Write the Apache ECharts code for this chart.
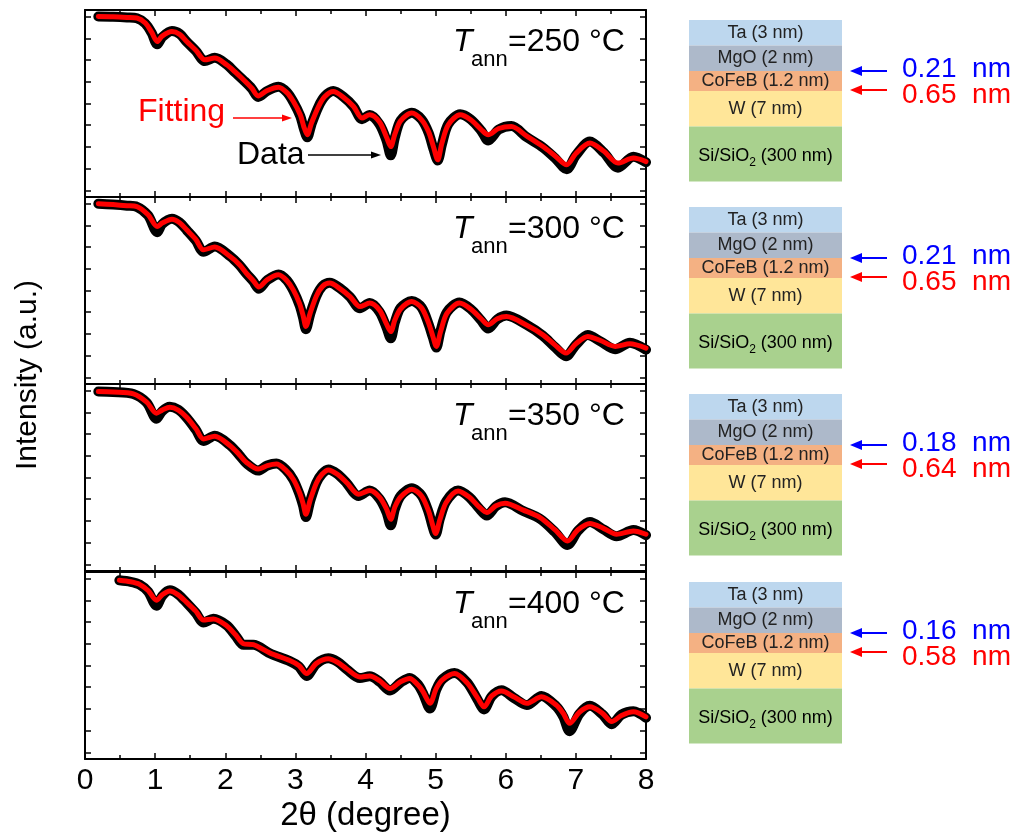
<!DOCTYPE html>
<html>
<head>
<meta charset="utf-8">
<script src="https://cdn.jsdelivr.net/npm/echarts@6/dist/echarts.min.js"></script>
<style>
  html, body { margin: 0; padding: 0; background: #fff; }
  #chart { width: 1020px; height: 835px; }
</style>
</head>
<body>
<div id="chart"></div>
<script>
// Annealing temperatures (°C), one panel each, top to bottom
const annealTemps = [250, 300, 350, 400];

// X-ray reflectivity: 2θ (degree), measured intensity and fitted curve (log scale, arb. units)
const x250 = [0.19,0.4,0.6,0.74,0.86,0.95,1.03,1.1,1.24,1.35,1.45,1.58,1.71,1.85,2.02,2.14,2.26,2.38,2.47,2.6,2.76,2.88,2.97,3.07,3.12,3.17,3.23,3.33,3.42,3.54,3.68,3.83,3.95,4.06,4.2,4.3,4.36,4.42,4.5,4.66,4.8,4.9,4.97,5.03,5.09,5.18,5.35,5.5,5.65,5.75,5.9,6.08,6.3,6.53,6.7,6.87,7.0,7.2,7.4,7.6,7.82,8.0];
const fit250 = [8.0,7.99,7.96,7.93,7.7,7.28,6.85,7.1,7.31,7.18,6.85,6.45,6.01,6.09,5.78,5.45,5.09,4.7,4.35,4.6,4.75,4.5,4.1,3.48,2.94,2.56,3.1,3.86,4.32,4.55,4.3,3.86,3.33,3.48,3.15,2.45,2.02,2.6,3.2,3.56,3.25,2.7,2.0,1.41,2.18,3.02,3.48,3.25,2.8,2.56,2.85,2.94,2.5,2.02,1.6,1.18,1.7,2.18,1.8,1.26,1.49,1.33];
const data250 = [8.0,7.99,7.96,7.92,7.68,7.25,6.72,7.05,7.33,7.2,6.84,6.42,5.95,6.1,5.8,5.43,5.07,4.68,4.3,4.58,4.77,4.52,4.08,3.42,2.85,2.45,3.05,3.86,4.33,4.57,4.32,3.85,3.28,3.47,3.05,2.3,1.62,2.45,3.22,3.58,3.27,2.65,1.9,1.38,2.12,3.05,3.5,3.27,2.75,2.3,2.8,2.96,2.45,1.98,1.5,0.98,1.62,2.25,1.74,1.05,1.55,1.3];

const x300 = [0.19,0.4,0.6,0.74,0.9,1.03,1.1,1.24,1.35,1.45,1.58,1.69,1.85,2.07,2.2,2.3,2.4,2.48,2.6,2.76,2.88,2.97,3.06,3.11,3.15,3.21,3.3,3.39,3.49,3.63,3.78,3.92,4.06,4.2,4.3,4.36,4.42,4.5,4.66,4.8,4.9,4.96,5.01,5.07,5.16,5.34,5.5,5.65,5.75,5.88,6.01,6.3,6.53,6.7,6.86,7.0,7.17,7.35,7.56,7.77,8.0];
const fit300 = [7.99,7.95,7.9,7.86,7.48,6.94,7.1,7.28,7.12,6.79,6.35,5.87,6.0,5.56,5.2,4.8,4.45,4.16,4.5,4.72,4.45,4.03,3.4,2.85,2.35,2.95,3.75,4.2,4.34,4.1,3.72,3.26,3.42,3.1,2.45,2.11,2.65,3.15,3.49,3.2,2.5,1.9,1.43,2.1,2.95,3.42,3.15,2.7,2.42,2.7,2.8,2.4,1.96,1.5,1.12,1.55,1.89,1.7,1.43,1.55,1.35];
const data300 = [7.99,7.95,7.9,7.85,7.45,6.68,7.05,7.3,7.13,6.78,6.3,5.78,6.02,5.58,5.18,4.78,4.42,4.08,4.48,4.74,4.47,4.0,3.32,2.75,2.22,2.9,3.75,4.22,4.36,4.12,3.7,3.18,3.42,3.02,2.3,1.8,2.55,3.2,3.52,3.22,2.45,1.85,1.38,2.15,3.0,3.45,3.15,2.62,2.25,2.68,2.85,2.42,1.92,1.4,0.98,1.5,1.95,1.66,1.3,1.6,1.28];

const x350 = [0.19,0.4,0.69,0.88,1.02,1.1,1.21,1.33,1.45,1.58,1.69,1.85,2.07,2.2,2.3,2.47,2.6,2.73,2.86,2.97,3.06,3.11,3.15,3.21,3.3,3.38,3.47,3.6,3.73,3.9,4.06,4.2,4.3,4.36,4.42,4.5,4.66,4.8,4.9,4.95,5.0,5.06,5.15,5.32,5.48,5.62,5.73,5.86,5.99,6.25,6.49,6.7,6.88,7.03,7.2,7.4,7.58,7.82,8.0];
const fit350 = [7.95,7.93,7.85,7.47,6.96,7.1,7.23,7.1,6.77,6.25,5.77,5.9,5.46,5.05,4.7,4.39,4.55,4.62,4.35,3.92,3.3,2.8,2.31,2.95,3.75,4.15,4.35,4.15,3.77,3.23,3.4,3.1,2.55,2.08,2.65,3.1,3.46,3.15,2.45,1.9,1.43,2.05,2.85,3.38,3.1,2.65,2.39,2.7,2.82,2.5,2.16,1.6,1.08,1.6,1.89,1.65,1.39,1.54,1.39];
const data350 = [7.95,7.93,7.84,7.44,6.7,7.05,7.25,7.12,6.75,6.2,5.68,5.92,5.48,5.03,4.66,4.32,4.55,4.64,4.37,3.9,3.22,2.7,2.18,2.9,3.76,4.17,4.37,4.16,3.75,3.15,3.4,3.02,2.4,1.8,2.55,3.15,3.5,3.17,2.4,1.82,1.38,2.1,2.9,3.4,3.1,2.58,2.25,2.68,2.86,2.46,2.1,1.5,0.9,1.55,1.95,1.6,1.3,1.58,1.35];

const x400 = [0.49,0.65,0.78,0.9,1.02,1.1,1.21,1.33,1.45,1.58,1.69,1.83,2.02,2.15,2.26,2.4,2.64,2.92,3.05,3.16,3.3,3.47,3.6,3.73,3.92,4.06,4.2,4.35,4.5,4.63,4.75,4.82,4.92,5.01,5.1,5.27,5.45,5.6,5.69,5.8,5.94,6.12,6.3,6.51,6.72,6.82,6.91,7.05,7.2,7.38,7.51,7.65,7.82,8.0];
const fit400 = [7.92,7.85,7.73,7.45,7.0,7.25,7.43,7.25,6.9,6.5,6.09,6.14,5.83,5.4,5.0,4.96,4.57,4.23,4.0,3.63,4.1,4.31,4.15,3.85,3.47,3.52,3.3,2.94,3.25,3.4,3.1,2.8,2.26,2.95,3.35,3.63,3.2,2.5,2.1,2.6,2.83,2.55,2.26,2.56,2.18,1.8,1.34,1.85,2.1,1.8,1.42,1.7,1.87,1.64];
const data400 = [7.92,7.85,7.72,7.4,6.75,7.2,7.46,7.27,6.88,6.42,5.98,6.15,5.85,5.36,4.95,4.95,4.55,4.2,3.95,3.52,4.08,4.33,4.17,3.83,3.42,3.5,3.26,2.85,3.22,3.43,3.12,2.72,2.02,2.9,3.38,3.66,3.22,2.42,1.98,2.58,2.86,2.5,2.18,2.6,2.12,1.65,0.98,1.78,2.15,1.75,1.3,1.74,1.9,1.6];

// Tick positions
const xTicks = [0, 1, 2, 3, 4, 5, 6, 7, 8];
const yTicks = [0, 1, 2, 3, 4, 5, 6, 7, 8];

// Film stack, top to bottom, and interface roughness from the fits (nm)
const layerNames = ['Ta (3 nm)', 'MgO (2 nm)', 'CoFeB (1.2 nm)', 'W (7 nm)', 'Si/SiO2 (300 nm)'];
const roughMgOCoFeB = [0.21, 0.21, 0.18, 0.16];
const roughCoFeBW = [0.65, 0.65, 0.64, 0.58];

const xSets = [x250, x300, x350, x400];
const fitSets = [fit250, fit300, fit350, fit400];
const dataSets = [data250, data300, data350, data400];

// ---- layout ----
const FONT = 'Liberation Sans, Arial, Helvetica, sans-serif';
const gridLeft = 85, gridWidth = 561, gridHeight = 187;
const gridTops = [10, 197, 384, 572];
const layerColors = ['#BDD7EE', '#ADB9CA', '#F4B183', '#FFE699', '#A9D18E'];
const layerEdges = [20, 45.5, 71, 91, 126.5, 181.5]; // first panel, px
const stackX = 689, stackW = 153;

const chart = echarts.init(document.getElementById('chart'), null, { renderer: 'canvas' });

const grids = [], xAxes = [], yAxes = [], series = [];
const axisLine = { show: true, onZero: false, lineStyle: { color: '#000', width: 2 } };
const tickLine = { color: '#000', width: 1.5 };

gridTops.forEach((top, k) => {
  grids.push({ left: gridLeft, top: top, width: gridWidth, height: gridHeight });
  const isLast = k === gridTops.length - 1;
  ['bottom', 'top'].forEach(pos => {
    xAxes.push({
      type: 'value', gridIndex: k, position: pos, min: 0, max: 8, interval: 1,
      axisLine: axisLine,
      axisTick: { show: true, inside: true, length: 6, lineStyle: tickLine },
      minorTick: { show: true, splitNumber: 2, length: 4, lineStyle: tickLine },
      axisLabel: {
        show: isLast && pos === 'bottom', margin: 7,
        fontFamily: FONT, fontSize: 30, color: '#000',
        customValues: xTicks
      },
      splitLine: { show: false }, minorSplitLine: { show: false },
      name: isLast && pos === 'bottom' ? '2θ (degree)' : '',
      nameLocation: 'middle', nameGap: 40,
      nameTextStyle: { fontFamily: FONT, fontSize: 33, color: '#000' }
    });
  });
  ['left', 'right'].forEach(pos => {
    yAxes.push({
      type: 'value', gridIndex: k, position: pos, min: -0.3, max: 8.3,
      axisLine: axisLine,
      axisTick: { show: true, inside: true, length: 6, lineStyle: tickLine, customValues: yTicks },
      axisLabel: { show: false },
      splitLine: { show: false }
    });
  });

  const xs = xSets[k];
  series.push({
    name: 'Data', type: 'line', xAxisIndex: 2 * k, yAxisIndex: 2 * k,
    data: xs.map((x, i) => [x, dataSets[k][i]]),
    smooth: 0.3, symbol: 'circle', symbolSize: 7, showSymbol: true, showAllSymbol: true,
    lineStyle: { color: '#000', width: 10, cap: 'round', join: 'round' },
    itemStyle: { color: 'rgba(255,255,255,0)', borderColor: '#000', borderWidth: 1 },
    z: 2, silent: true
  });
  series.push({
    name: 'Fitting', type: 'line', xAxisIndex: 2 * k, yAxisIndex: 2 * k,
    data: xs.map((x, i) => [x, fitSets[k][i]]),
    smooth: 0.3, symbol: 'none', showSymbol: false,
    lineStyle: { color: '#FF0000', width: 5, cap: 'round', join: 'round' },
    z: 3, silent: true
  });
});

// ---- annotations drawn with graphic elements ----
const graphic = [];
function txt(text, x, y, size, color, align, extra) {
  return {
    type: 'text', silent: true,
    style: Object.assign({
      text: text, x: x, y: y, fill: color,
      font: size + 'px ' + FONT,
      align: align, textAlign: align,
      verticalAlign: 'middle', textVerticalAlign: 'middle'
    }, extra || {})
  };
}
function arrow(x1, x2, y, color, width, headLen, headHalf) {
  const dir = x2 > x1 ? 1 : -1;
  graphic.push({ type: 'line', silent: true,
    shape: { x1: x1, y1: y, x2: x2 - dir * headLen * 0.6, y2: y },
    style: { stroke: color, lineWidth: width } });
  graphic.push({ type: 'polygon', silent: true,
    shape: { points: [[x2, y], [x2 - dir * headLen, y - headHalf], [x2 - dir * headLen, y + headHalf]] },
    style: { fill: color } });
}

// y-axis title spanning all panels
graphic.push({
  type: 'text', silent: true, x: 28, y: 375, rotation: Math.PI / 2,
  style: { text: 'Intensity (a.u.)', x: 0, y: 0, fill: '#000', font: '30px ' + FONT,
           align: 'center', textAlign: 'center', verticalAlign: 'middle', textVerticalAlign: 'middle' }
});

// "Fitting" / "Data" pointers in the first panel
graphic.push(txt('Fitting', 138, 112.5, 32, '#FF0000', 'left'));
arrow(233, 292, 118, '#FF0000', 1.5, 10, 3.5);
graphic.push(txt('Data', 237, 155, 32, '#000', 'left'));
arrow(308, 381, 155, '#000', 1.5, 10, 3.5);

gridTops.forEach((top, k) => {
  const dy = top - gridTops[0];
  // T_ann label
  graphic.push(txt('T', 453, 42.5 + dy, 32, '#000', 'left', { font: 'italic 32px ' + FONT }));
  graphic.push(txt('ann', 471, 60 + dy, 22, '#000', 'left'));
  graphic.push(txt('=' + annealTemps[k] + ' °C', 508, 42.5 + dy, 32, '#000', 'left'));

  // film stack
  layerNames.forEach((name, j) => {
    const y0 = layerEdges[j] + dy, y1 = layerEdges[j + 1] + dy;
    graphic.push({ type: 'rect', silent: true,
      shape: { x: stackX, y: y0, width: stackW, height: y1 - y0 },
      style: { fill: layerColors[j] } });
    const cx = stackX + stackW / 2, cy = (y0 + y1) / 2;
    if (name.indexOf('SiO2') >= 0) {
      const parts = name.split('SiO2');
      graphic.push({ type: 'text', silent: true,
        style: {
          text: '{a|' + parts[0] + 'SiO}{b|2}{a|' + parts[1] + '}',
          x: cx, y: cy + 2, align: 'center', textAlign: 'center',
          verticalAlign: 'middle', textVerticalAlign: 'middle',
          rich: {
            a: { fontFamily: FONT, fontSize: 18, color: '#222', lineHeight: 18, verticalAlign: 'middle' },
            b: { fontFamily: FONT, fontSize: 12, color: '#222', lineHeight: 26, verticalAlign: 'bottom' }
          }
        } });
    } else {
      graphic.push(txt(name, cx, cy, 18, '#222', 'center'));
    }
  });

  // interface roughness arrows and values
  const yTop = layerEdges[2] + dy, yBot = layerEdges[3] + dy - 1;
  arrow(887, 850, yTop, '#0000FF', 2, 12, 5);
  arrow(887, 850, yBot, '#FF0000', 2, 12, 5);
  graphic.push(txt(roughMgOCoFeB[k].toFixed(2) + '  nm', 902, yTop - 2, 28, '#0000FF', 'left'));
  graphic.push(txt(roughCoFeBW[k].toFixed(2) + '  nm', 902, yBot + 5, 28, '#FF0000', 'left'));
});

chart.setOption({
  animation: false,
  backgroundColor: '#fff',
  grid: grids,
  xAxis: xAxes,
  yAxis: yAxes,
  series: series,
  graphic: graphic
});
</script>
</body>
</html>
